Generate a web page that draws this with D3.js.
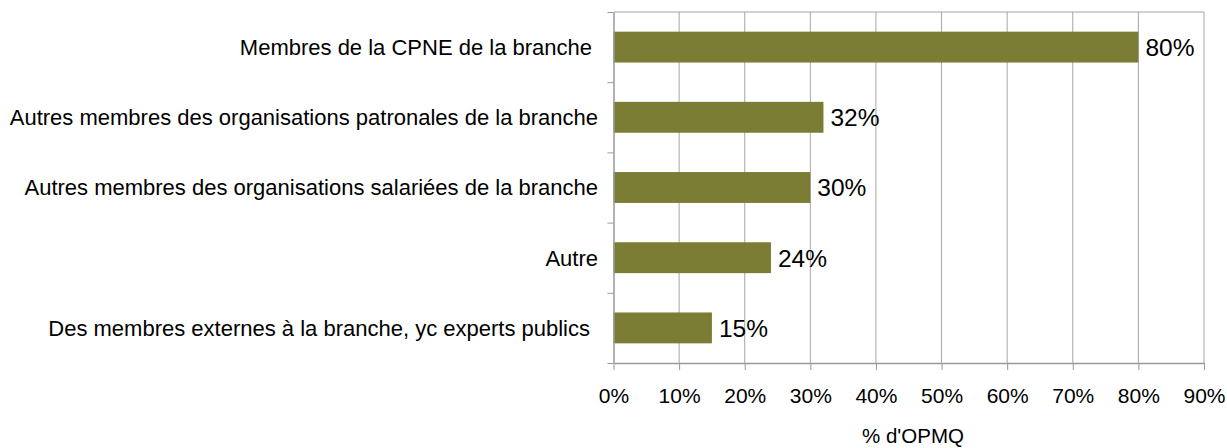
<!DOCTYPE html>
<html><head><meta charset="utf-8">
<script src="https://cdn.jsdelivr.net/npm/d3@7"></script>
<style>body{margin:0;background:#fff}svg{display:block}text{font-family:"Liberation Sans",Arial,sans-serif;fill:#000}</style>
</head><body><svg id="c" width="1227" height="448"></svg>
<script>
const categories = [
  "Membres de la CPNE de la branche",
  "Autres membres des organisations patronales de la branche",
  "Autres membres des organisations salariées de la branche",
  "Autre",
  "Des membres externes à la branche, yc experts publics"
];
const values = [80, 32, 30, 24, 15];
const xTicks = [0,10,20,30,40,50,60,70,80,90];
const xTitle = "% d'OPMQ";

const W = 1227, H = 448;
const m = {left: 613.5, right: 23, top: 12, bottom: 85};
const svg = d3.select("#c");
const x = d3.scaleLinear().domain([0, 90]).range([m.left, W - m.right]);
const y = d3.scaleBand().domain(categories).range([m.top, H - m.bottom]).paddingInner(0.56).paddingOuter(0.28);
const yb = d3.scaleLinear().domain([0, categories.length]).range([m.top, H - m.bottom]);

// grid
svg.append("g").selectAll("line").data(xTicks.slice(1)).join("line")
  .attr("x1", d => x(d)).attr("x2", d => x(d))
  .attr("y1", m.top).attr("y2", H - m.bottom)
  .attr("stroke", "#a6a6a6").attr("stroke-width", 1);
// top border
svg.append("line").attr("x1", m.left).attr("x2", W - m.right).attr("y1", m.top).attr("y2", m.top)
  .attr("stroke", "#a6a6a6");

// bars
svg.append("g").selectAll("rect").data(values).join("rect")
  .attr("x", x(0)).attr("y", (d, i) => y(categories[i]))
  .attr("width", d => x(d) - x(0)).attr("height", y.bandwidth())
  .attr("fill", "#7b7d34");

// value labels
svg.append("g").selectAll("text").data(values).join("text")
  .attr("x", d => x(d) + 7).attr("y", (d, i) => y(categories[i]) + y.bandwidth() / 2)
  .attr("dy", "0.36em").style("font-size", "24.5px")
  .text(d => d + "%");

// x axis
const xa = svg.append("g").attr("transform", `translate(0,${H - m.bottom})`)
  .call(d3.axisBottom(x).tickValues(xTicks).tickFormat(d => d + "%").tickSize(7).tickSizeOuter(0).tickPadding(18));
xa.select(".domain").attr("stroke", "#999").attr("stroke-width", 1.5);
xa.selectAll(".tick line").attr("stroke", "#999");
xa.selectAll("text").style("font-size", "21px").style("font-family", '"Liberation Sans",Arial,sans-serif');

// y axis
const ya = svg.append("g").attr("transform", `translate(${m.left},0)`)
  .call(d3.axisLeft(yb).tickValues(d3.range(categories.length + 1)).tickFormat("").tickSize(6).tickSizeOuter(0));
ya.select(".domain").attr("stroke", "#999").attr("stroke-width", 1.5);
ya.selectAll(".tick line").attr("stroke", "#999");

// category labels
svg.append("g").selectAll("text").data(categories).join("text")
  .attr("x", (d, i) => i === 0 ? 592 : (i === 4 ? 590 : 598))
  .attr("y", d => y(d) + y.bandwidth() / 2).attr("dy", "0.36em")
  .attr("text-anchor", "end").style("font-size", "22px")
  .text(d => d);

// axis title
svg.append("text").attr("x", 913).attr("y", 443).attr("text-anchor", "middle")
  .style("font-size", "20.5px").text(xTitle);
</script></body></html>
